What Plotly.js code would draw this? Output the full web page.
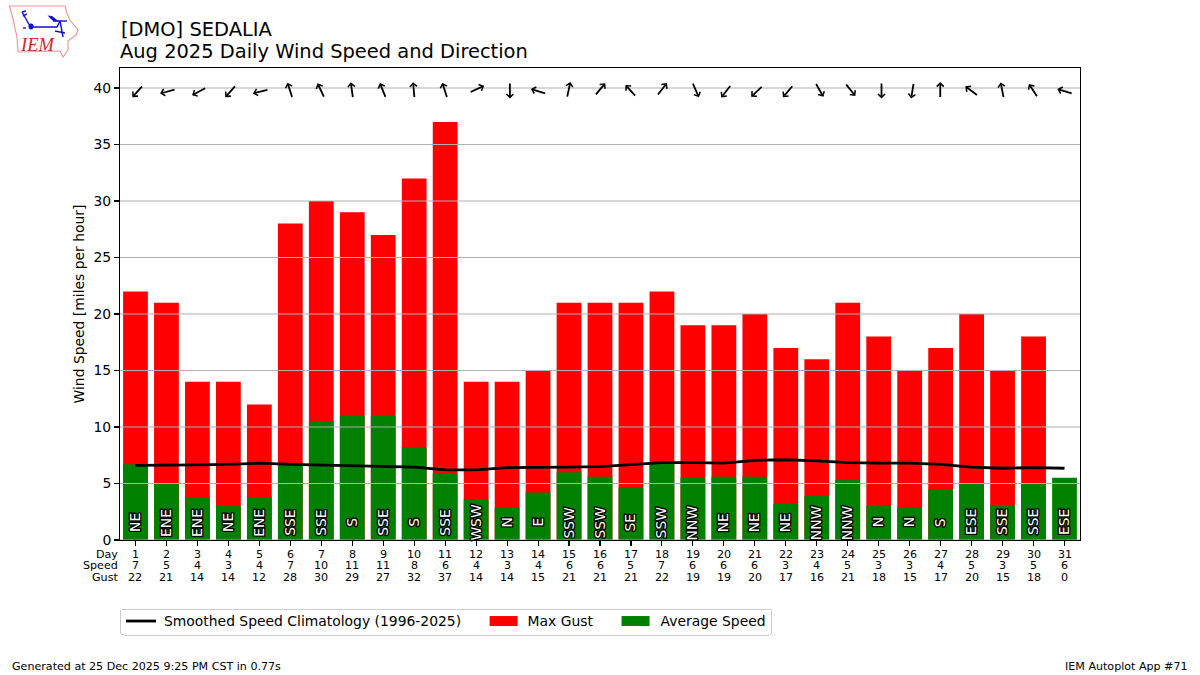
<!DOCTYPE html>
<html><head><meta charset="utf-8">
<script src="https://cdn.plot.ly/plotly-3.0.1.min.js"></script>
<style>html,body{margin:0;padding:0;background:#fff}
text.annotation-text[style*="rgb(255, 255, 255)"]{stroke:#000;stroke-width:2.8px;paint-order:stroke fill;stroke-linejoin:round}
</style></head>
<body><div id="chart" style="width:1200px;height:675px"></div>
<script>
const days=[1,2,3,4,5,6,7,8,9,10,11,12,13,14,15,16,17,18,19,20,21,22,23,24,25,26,27,28,29,30,31];
const avgSpeed=[6.7,5.0,3.75,3.0,3.8,6.6,10.45,11,11,8.2,5.85,3.6,2.9,4.2,6.0,5.6,4.65,6.8,5.5,5.6,5.6,3.2,3.9,5.3,3.05,2.9,4.5,5.05,3.1,5.0,5.5];
const maxGust=[22,21,14,14,12,28,30,29,27,32,37,14,14,15,21,21,21,22,19,19,20,17,16,21,18,15,17,20,15,18,0];
const speedLabels=[7,5,4,3,4,7,10,11,11,8,6,4,3,4,6,6,5,7,6,6,6,3,4,5,3,3,4,5,3,5,6];
const climatology=[6.6,6.6,6.65,6.7,6.8,6.7,6.65,6.6,6.5,6.45,6.2,6.2,6.4,6.4,6.45,6.5,6.65,6.85,6.85,6.8,7.05,7.1,7.0,6.85,6.8,6.8,6.7,6.45,6.35,6.4,6.35];
const dirLabels=["NE","ENE","ENE","NE","ENE","SSE","SSE","S","SSE","S","SSE","WSW","N","E","SSW","SSW","SE","SSW","NNW","NE","NE","NE","NNW","NNW","N","N","S","ESE","SSE","SSE","ESE"];
const dirDegrees=[42,75,62,42,76,162,155,172,158,175,162,245,0,107,192,220,138,218,336,38,47,40,330,321,0,9,180,127,169,147,107];
const yTicks=[0,5,10,15,20,25,30,35,40];
const L=120,T=68,W=960,H=472;
const FONT='"DejaVu Sans"';
const px=(x)=>(x-L)/W, py=(y)=>(T+H-y)/H;
const ann=[];
// wind arrows (the glyph's centre drifts slightly with its rotation in the reference)
const ARROW=16.5;
days.forEach((d,i)=>{
  const r=dirDegrees[i]*Math.PI/180;
  const tx=Math.sin(r)*ARROW, ty=-Math.cos(r)*ARROW;
  const driftX=1.2+1.6*Math.cos(r), driftY=-1.2*Math.sin(r);
  ann.push({x:d,y:39.8,xref:'x',yref:'y',ax:tx,ay:ty,axref:'pixel',ayref:'pixel',
    xshift:-tx/2+driftX,yshift:ty/2+driftY,text:'',showarrow:true,arrowhead:4,arrowsize:0.75,arrowwidth:1.8,arrowcolor:'#000',standoff:0,startstandoff:0});
});
// direction labels
days.forEach((d,i)=>ann.push({x:d,y:1.55,xref:'x',yref:'y',text:dirLabels[i],showarrow:false,textangle:-90,
  font:{family:FONT,size:13.9,color:'#ffffff'}}));
// table under axis
const rowY=[554,565.5,577];
const rowNames=['Day','Speed','Gust'];
const rows=[days,speedLabels,maxGust];
rows.forEach((row,r)=>{
  row.forEach((v,i)=>ann.push({x:days[i],y:py(rowY[r]),xref:'x',yref:'paper',text:String(v),showarrow:false,xanchor:'center',yanchor:'middle',
    font:{family:FONT,size:11.1,color:'#000'}}));
  ann.push({x:px(120),y:py(rowY[r]),xref:'paper',yref:'paper',text:rowNames[r],showarrow:false,xanchor:'right',yanchor:'middle',
    font:{family:FONT,size:11.1,color:'#000'}});
});
// footer
ann.push({x:px(12),y:py(666.5),xref:'paper',yref:'paper',text:'Generated at 25 Dec 2025 9:25 PM CST in 0.77s',showarrow:false,xanchor:'left',yanchor:'middle',xshift:-2,font:{family:FONT,size:11.1,color:'#000'}});
ann.push({x:px(1188),y:py(666.5),xref:'paper',yref:'paper',text:'IEM Autoplot App #71',showarrow:false,xanchor:'right',yanchor:'middle',xshift:1.5,font:{family:FONT,size:11.1,color:'#000'}});
// first title line
ann.push({x:px(120),y:py(29),xref:'paper',yref:'paper',text:'[DMO] SEDALIA',showarrow:false,xanchor:'left',yanchor:'middle',xshift:-1,font:{family:FONT,size:19.45,color:'#000'}});
// logo word
ann.push({x:px(37),y:py(45),xref:'paper',yref:'paper',text:'<i>IEM</i>',showarrow:false,xanchor:'center',yanchor:'middle',font:{family:'"Liberation Serif"',size:18.5,color:'#d8232a'}});

// logo as paper-space paths
const P=(pts,close)=>pts.map((p,i)=>(i?'L':'M')+px(p[0]).toFixed(5)+','+py(p[1]).toFixed(5)).join(' ')+(close?' Z':'');
const logoBorder=[[9.5,6],[65,6],[66.7,12.7],[70,20],[78,30],[76,35],[68,41],[68,50],[63,57],[60,51],[18,52],[17,37],[12.7,18]];
const logoBlue=[[[30,27],[57,27],[60,21]],[[53,21],[67,21]],[[60,21],[63,37]],[[55,31],[65,33]],[[30,26],[22,12]],[[22,12],[26,11]],[[23,16],[27,14]],[[23,28],[26,28]]];
const shapes=[];
yTicks.forEach(v=>shapes.push({type:'line',xref:'paper',yref:'y',x0:0,x1:1,y0:v,y1:v,layer:'above',line:{color:'#b0b0b0',width:1.1}}));
shapes.push({type:'path',xref:'paper',yref:'paper',path:P(logoBorder,true),line:{color:'#eb9a9a',width:1.2},fillcolor:'rgba(0,0,0,0)',layer:'above'});
logoBlue.forEach(s=>shapes.push({type:'path',xref:'paper',yref:'paper',path:P(s,false),line:{color:'#1010cc',width:1.4},layer:'above'}));
shapes.push({type:'circle',xref:'paper',yref:'paper',x0:px(28.5),x1:px(33.5),y0:py(29.5),y1:py(23.5),fillcolor:'#1010cc',line:{width:0},layer:'above'});
shapes.push({type:'path',xref:'paper',yref:'paper',path:P([[47.5,15.5],[52,16],[59,21.5],[53,21]],true),fillcolor:'#1010cc',line:{width:0},layer:'above'});

const traces=[
 {type:'scatter',mode:'lines',x:days,y:climatology,name:'Smoothed Speed Climatology (1996-2025)',line:{color:'#000',width:2.8}},
 {type:'bar',x:days,y:maxGust,width:0.8,name:'Max Gust',marker:{color:'#ff0000',line:{width:0}}},
 {type:'bar',x:days,y:avgSpeed,width:0.8,name:'Average Speed',marker:{color:'#008000',line:{width:0}}}
];
const layout={
 width:1200,height:675,autosize:false,paper_bgcolor:'#fff',plot_bgcolor:'#fff',
 margin:{l:L,r:1200-L-W,t:T,b:675-T-H,pad:0},
 barmode:'overlay',showlegend:true,
 title:{text:'Aug 2025 Daily Wind Speed and Direction',x:120/1200,xanchor:'left',xref:'container',y:1-51/675,yref:'container',yanchor:'middle',font:{family:FONT,size:19.45,color:'#000'}},
 font:{family:FONT,size:13.9,color:'#000'},
 xaxis:{range:[0.5,31.5],tickmode:'array',tickvals:days,ticktext:days.map(()=>''),ticks:'outside',ticklen:4.9,tickwidth:1.1,tickcolor:'#000',showgrid:false,zeroline:false,showline:true,linecolor:'#000',linewidth:1.1,mirror:true,fixedrange:true},
 yaxis:{range:[0,41.77],tickmode:'array',tickvals:yTicks,ticktext:yTicks.map(String),ticks:'outside',ticklen:4.9,tickwidth:1.1,tickcolor:'#000',showgrid:false,zeroline:false,showline:true,linecolor:'#000',linewidth:1.1,mirror:true,tickfont:{family:FONT,size:13.9},title:{text:'Wind Speed [miles per hour]',font:{family:FONT,size:13.9},standoff:5},fixedrange:true},
 legend:{orientation:'h',x:0,xanchor:'left',y:py(604.5),yanchor:'top',bgcolor:'#fff',bordercolor:'#cccccc',borderwidth:1,font:{family:FONT,size:13.9},traceorder:'normal',itemwidth:30},
 annotations:ann,shapes:shapes,hovermode:false
};
Plotly.newPlot('chart',traces,layout,{displayModeBar:false,staticPlot:true}).then(()=>{
  // legend cosmetics: wide bar swatches, wider spacing, slimmer rounded frame
  const bg=document.querySelector('.legend rect.bg');
  if(bg){bg.setAttribute('y',4.5);bg.setAttribute('height',26);bg.setAttribute('width',651);bg.setAttribute('rx',3);}
  const box=document.querySelector('.legend .scrollbox');
  if(box)box.removeAttribute('clip-path');
  const entryShift=[0,20.5,41.5], textShift=[3,4,5];
  document.querySelectorAll('.legend .traces').forEach((g,i)=>{
    const m=(g.getAttribute('transform')||'').match(/translate\(([-\d.]+),\s*([-\d.]+)\)/);
    if(m)g.setAttribute('transform','translate('+(parseFloat(m[1])+entryShift[i])+','+m[2]+')');
    const t=g.querySelector('text.legendtext');
    if(t)t.setAttribute('x',parseFloat(t.getAttribute('x'))+textShift[i]);
    g.querySelectorAll('.legendpoints path').forEach(p=>{p.setAttribute('d','M14,5H-14V-5H14Z');p.style.strokeWidth='0';});
  });
});
</script></body></html>
